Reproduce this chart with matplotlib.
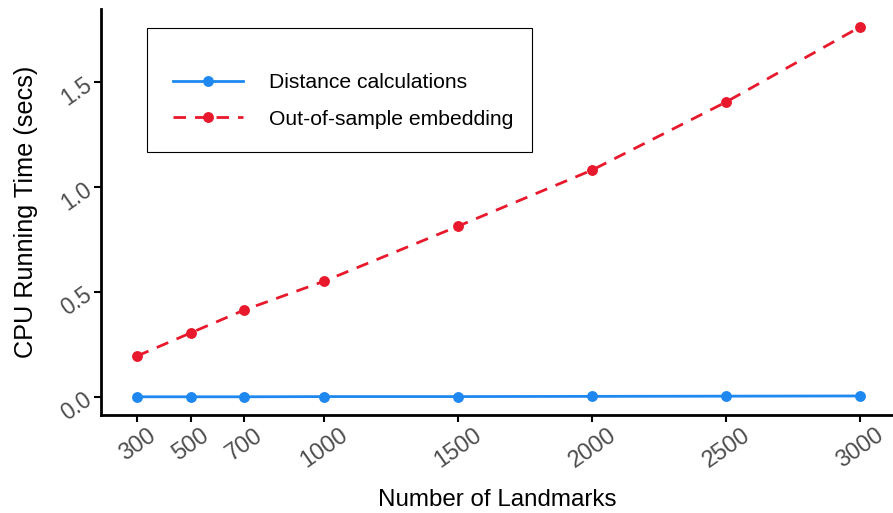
import matplotlib
matplotlib.use("Agg")
import matplotlib.pyplot as plt
from matplotlib.patches import Rectangle
from matplotlib.transforms import ScaledTranslation

landmarks = [300, 500, 700, 1000, 1500, 2000, 2500, 3000]
distance_calc = [0.001, 0.001, 0.001, 0.002, 0.002, 0.003, 0.004, 0.005]
oos_embedding = [0.195, 0.305, 0.414, 0.552, 0.814, 1.081, 1.405, 1.762]
y_ticks = [0.0, 0.5, 1.0, 1.5]
y_tick_labels = ["0.0", "0.5", "1.0", "1.5"]
series_names = ["Distance calculations", "Out-of-sample embedding"]

plt.rcParams['font.family'] = ['Liberation Sans', 'DejaVu Sans']

W, H = 893, 513
fig = plt.figure(figsize=(W / 100, H / 100), dpi=100)
ax = fig.add_axes([101 / W, 1 - 415 / H, (893 - 101) / W, (415 - 8.5) / H])

blue = '#1E88F0'
red = '#E8192C'
ax.plot(landmarks, distance_calc, color=blue, lw=2, marker='o', ms=6.8,
        label=series_names[0])
ax.plot(landmarks, oos_embedding, color=red, lw=2, ls=(0, (4.5, 3.25)), marker='o', ms=6.8,
        label=series_names[1])

ax.set_xlim(165.6, 3123)
ax.set_ylim(-0.0857, 1.85)
ax.set_xticks(landmarks)
ax.set_xticklabels([str(v) for v in landmarks], rotation=35, ha='center',
                   fontsize=16.8, color='#4D4D4D')
shift = ScaledTranslation(4 / 100, 3 / 100, fig.dpi_scale_trans)
for lbl in ax.get_xticklabels():
    lbl.set_transform(lbl.get_transform() + shift)
ax.set_yticks(y_ticks)
ax.set_yticklabels(y_tick_labels, rotation=35, ha='right', va='center',
                   fontsize=16.5, color='#4D4D4D', rotation_mode='anchor')

for s in ['top', 'right']:
    ax.spines[s].set_visible(False)
for s in ['left', 'bottom']:
    ax.spines[s].set_linewidth(2)
    ax.spines[s].set_color('black')
ax.tick_params(axis='both', length=5, width=1.5, color='black')
ax.tick_params(axis='x', pad=1)
ax.tick_params(axis='y', pad=3)

ax.set_xlabel("Number of Landmarks", fontsize=17.4)
ax.xaxis.set_label_coords(0.5, -(489 - 415) / 406.5)
ax.set_ylabel("CPU Running Time (secs)", fontsize=18.2)
ax.yaxis.set_label_coords(-(101 - 38) / 792, 0.5)

fig.patches.append(Rectangle((147 / W, 1 - 152 / H), (532 - 147) / W, (152 - 28) / H,
                             transform=fig.transFigure, fill=False,
                             edgecolor='black', linewidth=0.8, zorder=5))
leg = ax.legend(loc='center left', bbox_to_anchor=(173 / W, 1 - 101 / H),
                bbox_transform=fig.transFigure, fontsize=15.2, frameon=False,
                handlelength=3.3, borderpad=0, labelspacing=0.84,
                handletextpad=1.25, borderaxespad=0)

fig.savefig("out.png", dpi=100)
